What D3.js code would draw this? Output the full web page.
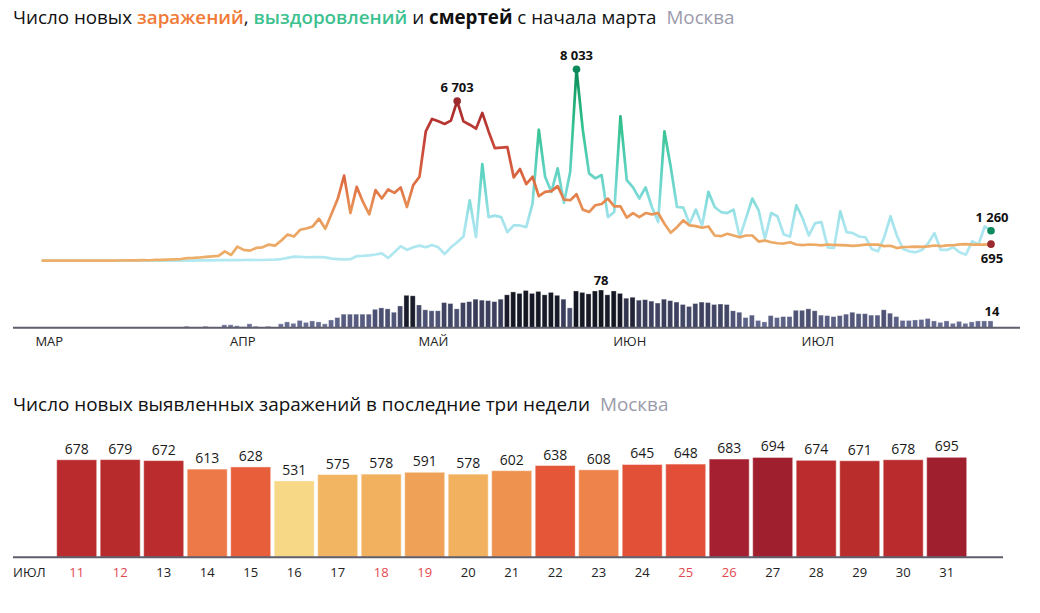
<!DOCTYPE html>
<html><head><meta charset="utf-8">
<script src="https://cdn.jsdelivr.net/npm/d3@7"></script>
<style>
body{margin:0;background:#fff;}
svg{display:block;font-family:"Open Sans",sans-serif;}
</style></head><body>
<svg id="c" width="1040" height="613"></svg>
<script>
// ---------- DATA ----------
const firstDay = "2020-03-02";   // first value of the daily series
const axisStart = "2020-03-01";
const axisEnd = "2020-07-31";
const cases = [1,0,0,1,3,0,2,2,1,3,4,5,8,10,12,16,20,18,33,33,45,55,70,110,115,135,160,180,200,393,
241,592,452,423,537,562,677,634,846,1099,1015,1297,1353,1437,1763,1340,1973,2607,3570,2000,
3099,2465,1945,2960,2609,2989,2846,3074,2254,3171,3522,5425,5949,5848,5738,5877,6703,5848,5708,5539,
6203,5425,4723,4748,4765,3497,3848,3214,3522,2706,2888,2918,3129,2567,2537,2791,2144,2042,2326,2380,
2607,2283,2283,1805,2000,1831,2000,1945,2000,1552,1171,1408,1691,1480,1450,1383,1437,1057,1028,1129,
1057,985,1057,1057,803,846,774,732,720,774,680,650,680,670,640,680,660,650,640,620,
640,678,679,672,613,628,531,575,578,591,578,602,638,608,645,648,683,694,674,671,678,695];
const recovered = [0,0,0,0,0,0,0,0,0,0,0,0,0,0,1,0,2,3,0,5,2,4,5,8,5,10,12,15,20,25,
30,25,30,35,30,30,40,45,70,120,170,160,145,150,155,140,90,70,55,60,
190,200,220,260,310,114,351,610,452,562,634,562,663,562,283,562,774,1015,2537,985,
4059,1831,1890,1831,1197,1480,1480,1408,2396,5497,3522,2888,3877,2423,3734,8033,5497,3666,3454,3594,
1831,2042,6059,3383,3074,2609,3074,2254,1620,5425,3945,2254,2228,1552,2144,1480,2888,2254,2042,2000,
2144,985,1800,2609,2114,917,2000,1860,1099,1015,2326,1780,1057,1578,1620,562,537,2072,1197,1156,
1015,985,493,393,985,1860,1057,493,393,351,450,731,1156,452,452,562,351,254,816,677,1437,1260];
const deaths = [0,0,0,0,0,0,0,0,0,0,0,0,0,0,0,0,0,0,0,0,0,0,0,3,0,1,3,1,0,6,
6,4,2,8,3,0,3,0,8,12,9,15,11,14,12,8,16,21,28,28,
28,28,28,38,41,39,32,45,67,66,47,37,35,35,52,50,39,52,54,59,
57,56,54,59,68,74,71,77,71,75,68,73,67,59,41,76,73,70,76,78,
68,76,71,61,63,57,58,55,51,59,56,53,48,44,50,53,52,48,49,48,
35,32,21,26,15,12,25,21,23,23,36,36,39,35,26,25,23,25,28,32,
29,29,26,26,37,30,23,15,15,16,17,19,14,11,14,9,13,9,12,14,14,14];
const monthNames = ["МАР","АПР","МАЙ","ИЮН","ИЮЛ"];
const weekDays = ["11","12","13","14","15","16","17","18","19","20","21","22","23","24","25","26","27","28","29","30","31"];
const weekCases = [678,679,672,613,628,531,575,578,591,578,602,638,608,645,648,683,694,674,671,678,695];
const weekendDays = ["11","12","18","19","25","26"];

// ---------- SETUP ----------
const svg = d3.select("#c");
const parse = d3.utcParse("%Y-%m-%d");
const t0 = parse(firstDay);
const dateOf = i => d3.utcDay.offset(t0, i);
const fmt = d3.formatLocale({thousands:"\u00a0", grouping:[3], decimal:",", currency:["",""]}).format(",");

const x = d3.scaleUtc().domain([parse(axisStart), parse(axisEnd)]).range([36.4, 991]);
const yL = d3.scaleLinear().domain([0, 8033]).range([260.7, 69.3]);
const yD = d3.scaleLinear().domain([0, 78]).range([327.7, 290]);

// ---------- TITLE ----------
const t1 = svg.append("text").attr("x", 13).attr("y", 24).attr("font-size", 18.8).attr("fill", "#111");
t1.append("tspan").text("Число новых ");
t1.append("tspan").attr("fill", "#f07a36").attr("font-weight", 600).text("заражений");
t1.append("tspan").text(", ");
t1.append("tspan").attr("fill", "#3cc18f").attr("font-weight", 600).text("выздоровлений");
t1.append("tspan").text(" и ");
t1.append("tspan").attr("font-weight", 700).text("смертей");
t1.append("tspan").text(" с начала марта");
t1.append("tspan").attr("dx", 10).attr("fill", "#9b9bab").text("Москва");

// ---------- GRADIENTS ----------
const defs = svg.append("defs");
function grad(id, stops) {
  const g = defs.append("linearGradient").attr("id", id).attr("gradientUnits", "userSpaceOnUse")
    .attr("x1", 0).attr("x2", 0).attr("y1", yL(0)).attr("y2", yL(8033));
  stops.forEach(([v, c]) => g.append("stop").attr("offset", v / 8033).attr("stop-color", c));
}
grad("gRec", [[0, "#b2e8f1"], [1600, "#a6e4ed"], [2800, "#78d9d4"], [4000, "#58d0bb"], [5600, "#36c392"], [6800, "#1faa74"], [8033, "#0b8757"]]);
grad("gCas", [[0, "#edaf69"], [1200, "#eba663"], [2400, "#e68a52"], [3400, "#dc6a40"], [4800, "#c9473a"], [6000, "#b3322f"], [6703, "#a02a2c"], [8033, "#8a2028"]]);

// ---------- DEATH BARS ----------
const dColor = d3.scaleLinear().domain([0, 20, 40, 60, 64, 78])
  .range(["#72779f", "#5e6389", "#4a4e6f", "#383c58", "#1b1d2d", "#13151f"]);
svg.append("g").selectAll("rect").data(deaths).join("rect")
  .attr("x", (d, i) => x(dateOf(i)) - 3)
  .attr("width", 5)
  .attr("y", d => yD(d))
  .attr("height", d => yD(0) - yD(d))
  .attr("fill", d => dColor(d))
  .attr("stroke", "#ffffff").attr("stroke-opacity", 0.4).attr("stroke-width", 0.8);

svg.append("line").attr("x1", 13).attr("x2", 1020).attr("y1", 327.7).attr("y2", 327.7)
  .attr("stroke", "#5e5e6c").attr("stroke-width", 2);

// month labels
const months = d3.utcMonths(parse(axisStart), d3.utcDay.offset(parse(axisEnd), 1));
svg.append("g").selectAll("text").data(months).join("text")
  .attr("x", d => x(d) - 1).attr("y", 346).attr("font-size", 13).attr("fill", "#222")
  .text((d, i) => monthNames[i]);

// ---------- LINES ----------
const line = d3.line().x((d, i) => x(dateOf(i))).y(d => yL(d)).curve(d3.curveLinear);
svg.append("path").datum(recovered).attr("d", line).attr("fill", "none")
  .attr("stroke", "url(#gRec)").attr("stroke-width", 2.7).attr("stroke-linejoin", "round").attr("stroke-linecap", "round");
svg.append("path").datum(cases).attr("d", line).attr("fill", "none")
  .attr("stroke", "url(#gCas)").attr("stroke-width", 2.7).attr("stroke-linejoin", "round").attr("stroke-linecap", "round");

// ---------- ANNOTATIONS ----------
const last = cases.length - 1;
const iMaxC = d3.maxIndex(cases), iMaxR = d3.maxIndex(recovered), iMaxD = d3.maxIndex(deaths);
const ann = svg.append("g").attr("font-size", 13).attr("font-weight", 700).attr("fill", "#111").attr("text-anchor", "middle");
function dot(i, v, c) {
  svg.append("circle").attr("cx", x(dateOf(i))).attr("cy", yL(v)).attr("r", 3.8).attr("fill", c);
}
dot(iMaxC, cases[iMaxC], "#9b2a2e");
dot(iMaxR, recovered[iMaxR], "#0c8a5c");
dot(last, recovered[last], "#0c8a5c");
dot(last, cases[last], "#9b2a2e");
ann.append("text").attr("x", x(dateOf(iMaxC))).attr("y", yL(cases[iMaxC]) - 9).text(fmt(cases[iMaxC]));
ann.append("text").attr("x", x(dateOf(iMaxR))).attr("y", yL(recovered[iMaxR]) - 9).text(fmt(recovered[iMaxR]));
ann.append("text").attr("x", x(dateOf(last)) + 1).attr("y", yL(recovered[last]) - 9).text(fmt(recovered[last]));
ann.append("text").attr("x", x(dateOf(last)) + 1).attr("y", yL(cases[last]) + 19).text(fmt(cases[last]));
ann.append("text").attr("x", x(dateOf(iMaxD)) - 0.5).attr("y", yD(deaths[iMaxD]) - 5).text(fmt(deaths[iMaxD]));
ann.append("text").attr("x", x(dateOf(last)) + 1).attr("y", yD(deaths[last]) - 5).text(fmt(deaths[last]));

// ---------- BOTTOM CHART ----------
const t2 = svg.append("text").attr("x", 13).attr("y", 411).attr("font-size", 18.9).attr("fill", "#111");
t2.append("tspan").text("Число новых выявленных заражений в последние три недели");
t2.append("tspan").attr("dx", 10).attr("fill", "#9b9bab").text("Москва");

const xb = d3.scaleBand().domain(weekDays).range([54.95, 968.45]).paddingInner(0.08).paddingOuter(0.04);
const yb = d3.scaleLinear().domain([0, 695]).range([557.3, 457.3]);
const bColor = d3.scaleLinear()
  .domain([531, 575, 600, 610, 628, 648, 668, 680, 682, 695])
  .range(["#f6d886", "#f2b561", "#ee9751", "#ee7e4a", "#e85e3b", "#e24e37", "#bb2d2d", "#b82b2c", "#a52131", "#a01f2f"]);
const gb = svg.append("g");
gb.selectAll("rect").data(weekCases).join("rect")
  .attr("x", (d, i) => xb(weekDays[i])).attr("width", xb.bandwidth())
  .attr("y", d => yb(d)).attr("height", d => yb(0) - yb(d))
  .attr("fill", d => bColor(d))
  .attr("stroke", "#ffffff").attr("stroke-opacity", 0.45).attr("stroke-width", 1);
gb.selectAll("text.v").data(weekCases).join("text").attr("class", "v")
  .attr("x", (d, i) => xb(weekDays[i]) + xb.bandwidth() / 2).attr("y", d => yb(d) - 6)
  .attr("text-anchor", "middle").attr("font-size", 14).attr("fill", "#1a1a1a").text(d => d);
svg.append("line").attr("x1", 13).attr("x2", 1003).attr("y1", 557.3).attr("y2", 557.3)
  .attr("stroke", "#5e5e6c").attr("stroke-width", 2);
gb.selectAll("text.d").data(weekDays).join("text").attr("class", "d")
  .attr("x", d => xb(d) + xb.bandwidth() / 2).attr("y", 577)
  .attr("text-anchor", "middle").attr("font-size", 13)
  .attr("fill", d => weekendDays.includes(d) ? "#e3474f" : "#222").text(d => d);
svg.append("text").attr("x", 13).attr("y", 577).attr("font-size", 13).attr("fill", "#222").text("ИЮЛ");
</script>
</body></html>
